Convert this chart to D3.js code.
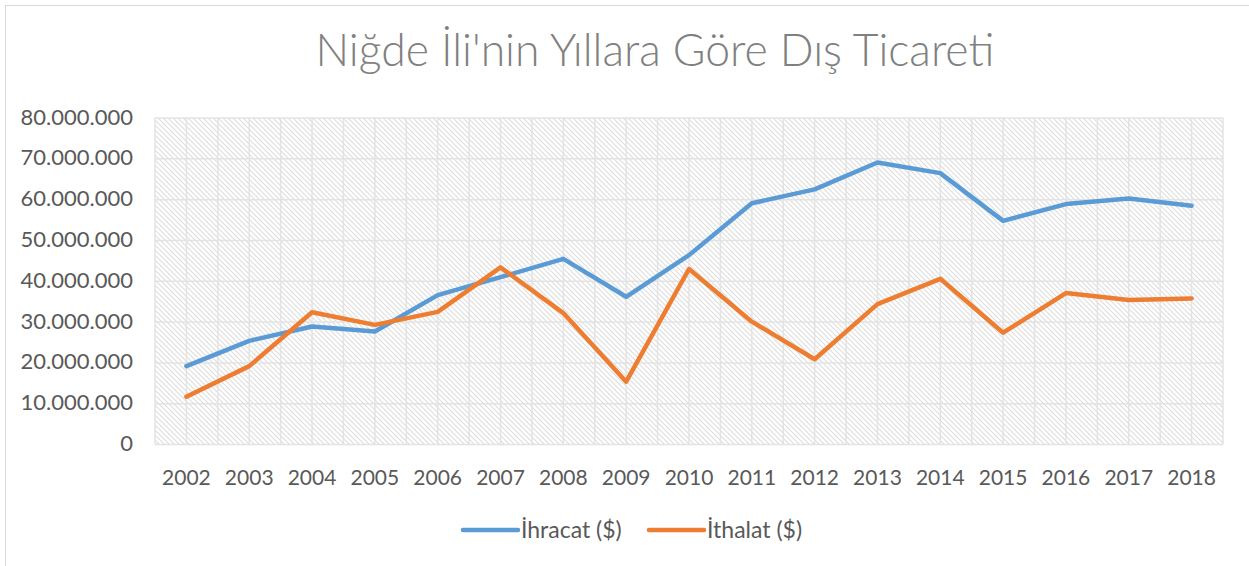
<!DOCTYPE html>
<html>
  <head>
    <meta charset="utf-8" />
    <title>Niğde Dış Ticaret</title>
    <script src="https://d3js.org/d3.v7.min.js"></script>
    <style>
      body {
        margin: 0;
        background: #fff;
        font-family: Lato, "Open Sans", sans-serif;
      }
      svg {
        display: block;
      }
    </style>
  </head>
  <body>
    <svg width="1249" height="566"></svg>

    <script>
      // data
      const years = ["2002", "2003", "2004", "2005", "2006", "2007", "2008", "2009", "2010",
        "2011", "2012", "2013", "2014", "2015", "2016", "2017", "2018"];
      const ihracat = [19.2, 25.4, 28.9, 27.7, 36.6, 41.0, 45.5, 36.2, 46.4,
        59.1, 62.5, 69.1, 66.5, 54.8, 58.9, 60.3, 58.5].map(v => v * 1e6);
      const ithalat = [11.7, 19.2, 32.4, 29.3, 32.5, 43.4, 32.2, 15.4, 43.0,
        30.1, 20.9, 34.4, 40.6, 27.4, 37.1, 35.4, 35.8].map(v => v * 1e6);
      const yTicks = [0, 10e6, 20e6, 30e6, 40e6, 50e6, 60e6, 70e6, 80e6];
      const seriesNames = ["İhracat ($)", "İthalat ($)"];
      const colors = ["#5B9BD5", "#ED7D31"];

      const svg = d3.select("svg");
      const width = +svg.attr("width");
      const height = +svg.attr("height");

      const plot = { left: 155, right: 1223, top: 118, bottom: 444.5 };

      const trFormat = d3.formatLocale({ decimal: ",", thousands: ".", grouping: [3], currency: ["", ""] }).format(",.0f");

      // outer chart border
      svg.append("rect")
        .attr("x", 5.5).attr("y", 5.5)
        .attr("width", width + 10).attr("height", height + 10)
        .attr("fill", "#fff")
        .attr("stroke", "#d9d9d9");

      // hatch pattern for plot area
      const defs = svg.append("defs");
      const pat = defs.append("pattern")
        .attr("id", "hatch")
        .attr("patternUnits", "userSpaceOnUse")
        .attr("width", 5).attr("height", 5);
      pat.append("rect").attr("width", 5).attr("height", 5).attr("fill", "#fff");
      pat.append("path")
        .attr("d", "M-1,-1 L6,6 M-1,4 L1,6 M4,-1 L6,1")
        .attr("stroke", "#dedede")
        .attr("stroke-width", 1.1);

      const x = d3.scaleBand().domain(years).range([plot.left, plot.right]).padding(0);
      const y = d3.scaleLinear().domain([0, 80e6]).range([plot.bottom, plot.top]);

      svg.append("rect")
        .attr("x", plot.left).attr("y", plot.top)
        .attr("width", plot.right - plot.left)
        .attr("height", plot.bottom - plot.top)
        .attr("fill", "url(#hatch)");

      // gridlines
      const grid = svg.append("g").attr("stroke", "#e3e3e3").attr("stroke-width", 1.5);
      grid.selectAll(".h").data(yTicks).join("line")
        .attr("x1", plot.left).attr("x2", plot.right)
        .attr("y1", d => y(d)).attr("y2", d => y(d));
      const vx = [];
      years.forEach(yr => { vx.push(x(yr)); vx.push(x(yr) + x.bandwidth() / 2); });
      vx.push(plot.right);
      grid.selectAll(".v").data(vx).join("line")
        .attr("x1", d => d).attr("x2", d => d)
        .attr("y1", plot.top).attr("y2", plot.bottom);

      // y axis labels
      svg.append("g").selectAll("text").data(yTicks).join("text")
        .attr("x", 133)
        .attr("y", d => y(d))
        .attr("dy", "0.3em")
        .attr("text-anchor", "end")
        .attr("fill", "#595959")
        .attr("font-size", 22)
        .text(d => trFormat(d));

      // x axis labels
      svg.append("g").selectAll("text").data(years).join("text")
        .attr("x", d => x(d) + x.bandwidth() / 2)
        .attr("y", 485)
        .attr("text-anchor", "middle")
        .attr("fill", "#595959")
        .attr("font-size", 21)
        .text(d => d);

      // lines
      const line = d3.line()
        .x((d, i) => x(years[i]) + x.bandwidth() / 2)
        .y(d => y(d));

      [ihracat, ithalat].forEach((vals, i) => {
        svg.append("path")
          .datum(vals)
          .attr("fill", "none")
          .attr("stroke", colors[i])
          .attr("stroke-width", 4.5)
          .attr("stroke-linejoin", "round")
          .attr("stroke-linecap", "round")
          .attr("d", line);
      });

      // title
      svg.append("text")
        .attr("x", 655)
        .attr("y", 66)
        .attr("text-anchor", "middle")
        .attr("fill", "#808080")
        .attr("font-size", 44.5)
        .attr("font-weight", 300)
        .text("Niğde İli'nin Yıllara Göre Dış Ticareti");

      // legend
      const legendX = [463, 649];
      const legend = svg.append("g").selectAll("g").data(seriesNames).join("g")
        .attr("transform", (d, i) => `translate(${legendX[i]}, 530)`);
      legend.append("line")
        .attr("x1", 0).attr("x2", 55)
        .attr("stroke", (d, i) => colors[i])
        .attr("stroke-width", 4.5)
        .attr("stroke-linecap", "round");
      legend.append("text")
        .attr("x", 58)
        .attr("y", 8)
        .attr("fill", "#595959")
        .attr("font-size", 23)
        .text(d => d);
    </script>
  </body>
</html>
